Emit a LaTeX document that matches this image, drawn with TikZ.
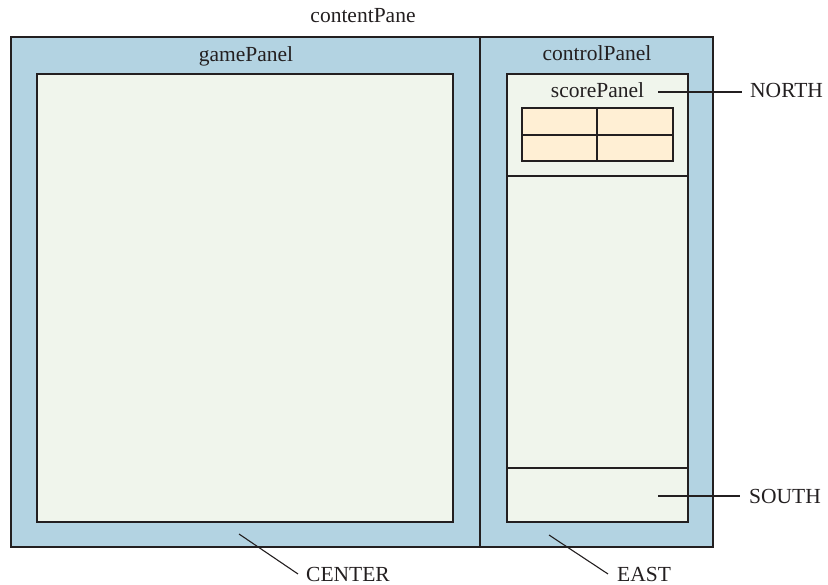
\documentclass[tikz,border=0pt]{standalone}
\usepackage{fontspec}
\setmainfont{Liberation Serif}
\definecolor{paneblue}{HTML}{B3D3E2}
\definecolor{panelgreen}{HTML}{F0F5EC}
\definecolor{scoreorange}{HTML}{FFEFD4}
\definecolor{ink}{HTML}{231F20}
\begin{document}
\begin{tikzpicture}[x=1pt,y=-1pt,
  lbl/.style={font=\fontsize{21.5}{24}\selectfont, text=ink, inner sep=0pt},
  box/.style={draw=ink, line width=2.9pt},
  thinline/.style={draw=ink, line width=1.3pt},
  leader/.style={draw=ink, line width=1.1pt}]
\useasboundingbox (0,0) rectangle (828,585);
% content pane
\path[box, fill=paneblue] (11,37) rectangle (713,547);
\draw[thinline] (480,37) -- (480,547);
% game panel
\path[box, fill=panelgreen] (37,74) rectangle (453,522);
% control panel
\path[box, fill=panelgreen] (507,74) rectangle (688,522);
\draw[thinline] (507,176) -- (688,176);
\draw[thinline] (507,468) -- (688,468);
% score table
\path[box, fill=scoreorange] (522,108) rectangle (673,161);
\draw[thinline] (597,108) -- (597,161);
\draw[thinline] (522,135) -- (673,135);
% titles
\node[lbl, anchor=base] (contentpane) at (363,23) {contentPane};
\node[lbl, anchor=base] (gamepanel) at (246,62) {gamePanel};
\node[lbl, anchor=base] (controlpanel) at (597,61) {controlPanel};
\node[lbl, anchor=base] (scorepanel) at (597.5,98) {scorePanel};
% region labels
\node[lbl, anchor=base west] (lblnorth) at (750,98) {NORTH};
\node[lbl, anchor=base west] (lblsouth) at (749,503) {SOUTH};
\node[lbl, anchor=base west] (lbleast) at (617,581) {EAST};
\node[lbl, anchor=base west] (lblcenter) at (306,581) {CENTER};
\coordinate (northpt) at (658,92);
\coordinate (southpt) at (658,496);
\coordinate (eastpt) at (549,535);
\coordinate (centerpt) at (239,534);
\draw[leader] (northpt) -- ([xshift=-8pt]northpt -| lblnorth.west);
\draw[leader] (southpt) -- ([xshift=-9pt]southpt -| lblsouth.west);
\draw[leader] (eastpt) -- ([xshift=-9pt]lbleast.west);
\draw[leader] (centerpt) -- ([xshift=-8pt]lblcenter.west);
\end{tikzpicture}
\end{document}
